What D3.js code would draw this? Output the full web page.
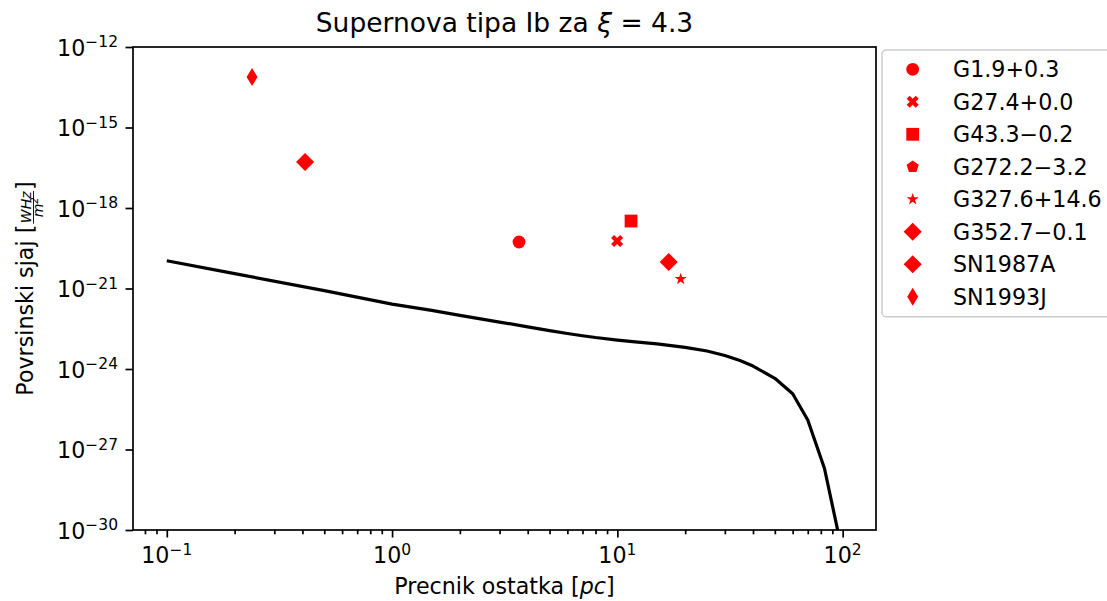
<!DOCTYPE html>
<html>
<head>
<meta charset="utf-8">
<script src="https://cdn.jsdelivr.net/npm/d3@7"></script>
<style>
  body { margin: 0; background: #fff; }
  text { font-family: "DejaVu Sans", sans-serif; fill: #000; }
</style>
</head>
<body>
<svg id="chart" width="1107" height="601"></svg>
<script>
// Surface brightness vs. remnant diameter, type Ib supernova model (xi = 4.3).

// Model curve (diameter in pc, surface brightness in W Hz^-1 m^-2).
const curveX = [0.1, 0.2, 0.5, 1, 1.5, 2, 3, 4, 5, 6, 7, 8, 10, 12, 15, 20, 25, 30, 35, 40,
  50, 60, 70, 83, 95, 100];
const curveY = [1.08e-20, 3.58e-21, 8.33e-22, 2.63e-22, 1.52e-22, 1.0e-22, 5.62e-23, 3.73e-23,
  2.71e-23, 2.11e-23, 1.74e-23, 1.49e-23, 1.2e-23, 1.03e-23, 8.59e-24, 6.42e-24, 4.67e-24,
  3.17e-24, 2.07e-24, 1.29e-24, 4.49e-25, 1.2e-25, 1.26e-26, 2.0e-28, 1.0e-30, 5e-32];

// Observed remnants (null = not visible inside the plotted range).
const remnants = ['G1.9+0.3', 'G27.4+0.0', 'G43.3\u22120.2', 'G272.2\u22123.2', 'G327.6+14.6',
  'G352.7\u22120.1', 'SN1987A', 'SN1993J'];
const remnantMarkers = ['o', 'X', 's', 'p', '*', 'D', 'D', 'd'];
const remnantD = [3.66, 9.97, 11.5, null, 19.1, 16.9, 0.411, 0.239];
const remnantS = [5.4e-20, 5.9e-20, 3.27e-19, null, 2.25e-21, 9.7e-21, 5.2e-17, 7.6e-14];

const xMajor = [0.1, 1, 10, 100];
const xMajorExp = ['\u22121', '0', '1', '2'];
const yMajor = [1e-12, 1e-15, 1e-18, 1e-21, 1e-24, 1e-27, 1e-30];
const yMajorExp = ['\u221212', '\u221215', '\u221218', '\u221221', '\u221224', '\u221227', '\u221230'];

const L = 133, R = 876, T = 47, B = 530;
const FS = 22.2;      // 10pt at ~160 dpi
const SUP = 15.5;     // superscript size
const RED = '#ff0000';
const MS = 12.8;      // marker size px

const svg = d3.select('#chart');

const x = d3.scaleLog().domain([Math.pow(10, -1.15), Math.pow(10, 2.148)]).range([L, R]);
const y = d3.scaleLog().domain([1e-30, 1e-12]).range([B, T]);

// minor ticks on x: 2..9 of each decade that falls inside the domain
const xMinor = [];
for (let e = -2; e <= 2; e++) {
  for (let k = 2; k <= 9; k++) {
    const v = k * Math.pow(10, e);
    if (v >= x.domain()[0] && v <= x.domain()[1]) xMinor.push(v);
  }
}

// Matplotlib-like marker shapes, s = marker size in px.
function markerPath(type, s) {
  const h = s / 2;
  const poly = (pts) => 'M' + pts.map((p) => p.join(',')).join('L') + 'Z';
  if (type === 'o') {
    return `M${h},0A${h},${h} 0 1,1 ${-h},0A${h},${h} 0 1,1 ${h},0Z`;
  }
  if (type === 's') return poly([[-h, -h], [h, -h], [h, h], [-h, h]]);
  if (type === 'D' || type === 'd') {
    const r = h * Math.SQRT2;
    const w = type === 'd' ? r * 0.6 : r;
    return poly([[0, -r], [w, 0], [0, r], [-w, 0]]);
  }
  if (type === 'X') {
    const base = [[-1, -3], [1, -3], [1, -1], [3, -1], [3, 1], [1, 1], [1, 3], [-1, 3], [-1, 1], [-3, 1], [-3, -1], [-1, -1]];
    const c = Math.SQRT1_2;
    return poly(base.map(([a, b]) => {
      const px = (a / 6) * s, py = (b / 6) * s;
      return [px * c - py * c, px * c + py * c];
    }));
  }
  if (type === 'p') {
    const pts = d3.range(5).map((i) => {
      const a = -Math.PI / 2 + (i * 2 * Math.PI) / 5;
      return [h * Math.cos(a), h * Math.sin(a)];
    });
    return poly(pts);
  }
  if (type === '*') {
    const pts = d3.range(10).map((i) => {
      const a = -Math.PI / 2 + (i * Math.PI) / 5;
      const r = i % 2 ? h * 0.381966 : h;
      return [r * Math.cos(a), r * Math.sin(a)];
    });
    return poly(pts);
  }
  return '';
}

// Clip for the model curve
svg.append('clipPath').attr('id', 'plotclip')
  .append('rect').attr('x', L).attr('y', T).attr('width', R - L).attr('height', B - T);

const line = d3.line().x((d) => x(d[0])).y((d) => y(d[1]));
svg.append('path')
  .datum(curveX.map((v, i) => [v, curveY[i]]))
  .attr('clip-path', 'url(#plotclip)')
  .attr('d', line)
  .attr('fill', 'none')
  .attr('stroke', '#000')
  .attr('stroke-width', 3.2)
  .attr('stroke-linejoin', 'round');

// Observed remnants
const pts = remnants.map((name, i) => ({
  name, m: remnantMarkers[i], d: remnantD[i], s: remnantS[i],
})).filter((p) => p.d != null);

svg.append('g').selectAll('path')
  .data(pts)
  .join('path')
  .attr('transform', (p) => `translate(${x(p.d)},${y(p.s)})`)
  .attr('d', (p) => markerPath(p.m, MS))
  .attr('fill', RED);

// Axes
const xAxis = svg.append('g').attr('transform', `translate(0,${B})`);
xAxis.call(d3.axisBottom(x).tickValues(xMajor).tickSize(7.5).tickFormat(''));
const xAxisMinor = svg.append('g').attr('transform', `translate(0,${B})`);
xAxisMinor.call(d3.axisBottom(x).tickValues(xMinor).tickSize(4.3).tickFormat(''));
const yAxis = svg.append('g').attr('transform', `translate(${L},0)`);
yAxis.call(d3.axisLeft(y).tickValues(yMajor).tickSize(7.5).tickFormat(''));
[xAxis, xAxisMinor, yAxis].forEach((g) => {
  g.select('.domain').remove();
  g.selectAll('.tick line').attr('stroke', '#000').attr('stroke-width', 1.7);
});

// Spines
svg.append('rect')
  .attr('x', L).attr('y', T).attr('width', R - L).attr('height', B - T)
  .attr('fill', 'none').attr('stroke', '#000').attr('stroke-width', 1.7);

// X tick labels 10^n
xMajor.forEach((v, i) => {
  const t = svg.append('text')
    .attr('x', x(v)).attr('y', 563)
    .attr('text-anchor', 'middle')
    .style('font-size', FS + 'px');
  t.append('tspan').text('10');
  t.append('tspan').attr('dy', -8.5).style('font-size', SUP + 'px').text(xMajorExp[i]);
});

// Y tick labels 10^n
yMajor.forEach((v, i) => {
  const t = svg.append('text')
    .attr('x', L - 15).attr('y', y(v) + 8.5)
    .attr('text-anchor', 'end')
    .style('font-size', FS + 'px');
  t.append('tspan').text('10');
  t.append('tspan').attr('dy', -8.5).style('font-size', SUP + 'px').text(yMajorExp[i]);
});

// Title
const title = svg.append('text')
  .attr('x', (L + R) / 2).attr('y', 32)
  .attr('text-anchor', 'middle')
  .style('font-size', '26.5px');
title.append('tspan').text('Supernova tipa Ib za ');
title.append('tspan').style('font-style', 'italic').text('\u03be');
title.append('tspan').text(' = 4.3');

// X axis label
const xl = svg.append('text')
  .attr('x', (L + R) / 2).attr('y', 594)
  .attr('text-anchor', 'middle')
  .style('font-size', FS + 'px');
xl.append('tspan').text('Precnik ostatka [');
xl.append('tspan').style('font-style', 'italic').text('pc');
xl.append('tspan').text(']');

// Y axis label with a small fraction WHz / m^2
const yl = svg.append('g').attr('transform', `translate(33,${(T + B) / 2}) rotate(-90)`);
const part1 = yl.append('text').style('font-size', FS + 'px').text('Povrsinski sjaj [');
const num = yl.append('text').style('font-size', '14px').style('font-style', 'italic')
  .attr('text-anchor', 'middle').text('WHz');
const den = yl.append('text').style('font-size', '14px').style('font-style', 'italic')
  .attr('text-anchor', 'middle');
den.append('tspan').text('m');
den.append('tspan').attr('dy', -5).style('font-size', '10px').text('2');
const part3 = yl.append('text').style('font-size', FS + 'px').text(']');
const w1 = part1.node().getComputedTextLength();
const wf = Math.max(num.node().getComputedTextLength(), den.node().getComputedTextLength()) + 3;
const w3 = part3.node().getComputedTextLength();
const x0 = -(w1 + wf + w3) / 2;
part1.attr('x', x0);
num.attr('x', x0 + w1 + wf / 2).attr('y', -2);
den.attr('x', x0 + w1 + wf / 2).attr('y', 10);
yl.append('line')
  .attr('x1', x0 + w1 + 1).attr('x2', x0 + w1 + wf - 1)
  .attr('y1', 0.5).attr('y2', 0.5)
  .attr('stroke', '#000').attr('stroke-width', 0.9);
part3.attr('x', x0 + w1 + wf);

// Legend
const lg = svg.append('g');
lg.append('rect')
  .attr('x', 882).attr('y', 50).attr('width', 240).attr('height', 266.7)
  .attr('rx', 4)
  .attr('fill', '#fff').attr('fill-opacity', 0.8)
  .attr('stroke', '#cccccc').attr('stroke-width', 1.5);
remnants.forEach((name, i) => {
  const cy = 69.3 + i * 32.5;
  lg.append('path')
    .attr('transform', `translate(912.7,${cy})`)
    .attr('d', markerPath(remnantMarkers[i], MS))
    .attr('fill', RED);
  lg.append('text')
    .attr('x', 953).attr('y', cy + 8)
    .style('font-size', FS + 'px')
    .text(name);
});
</script>
</body>
</html>
